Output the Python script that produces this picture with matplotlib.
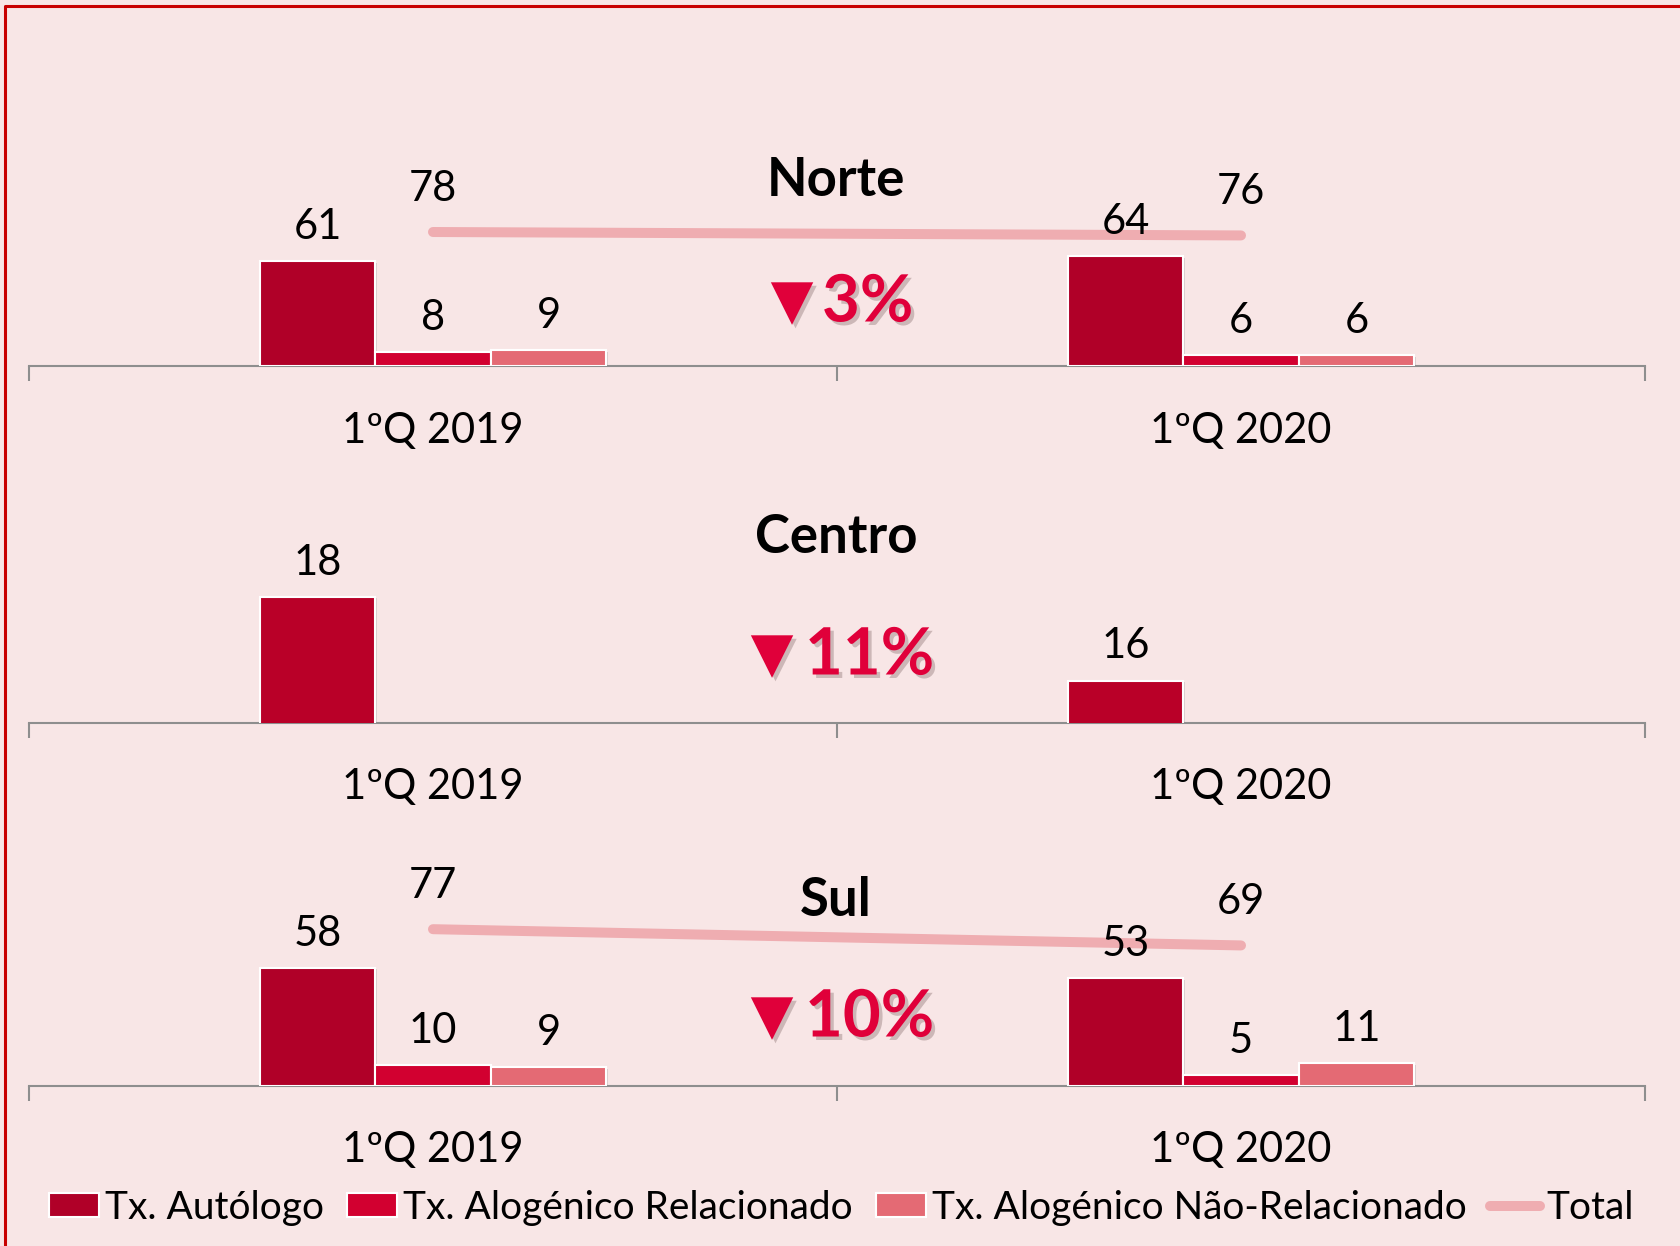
import matplotlib
matplotlib.use("Agg")
import matplotlib.pyplot as plt
import matplotlib.patheffects as pe
from matplotlib.patches import Patch
from matplotlib.lines import Line2D
import numpy as np

# ---- data ----
categories = ["1ºQ 2019", "1ºQ 2020"]
series_names = ["Tx. Autólogo", "Tx. Alogénico Relacionado",
                "Tx. Alogénico Não-Relacionado", "Total"]

norte_autologo = [61, 64]
norte_relacionado = [8, 6]
norte_nao_relacionado = [9, 6]
norte_total = [78, 76]

centro_autologo = [18, 16]

sul_autologo = [58, 53]
sul_relacionado = [10, 5]
sul_nao_relacionado = [9, 11]
sul_total = [77, 69]

regions = ["Norte", "Centro", "Sul"]
variations = ["3%", "11%", "10%"]

# ---- style ----
BG = "#F8E6E6"
C_AUTO = "#B00028"
C_AUTO_C = "#B90028"
C_REL = "#D20030"
C_NREL = "#E46A74"
C_TOTAL = "#EFADB1"
C_AXIS = "#8E8E8E"
C_PCT = "#E0003A"

plt.rcParams["font.family"] = ["Lato", "DejaVu Sans"]

W, H = 1681, 1246
fig = plt.figure(figsize=(W / 100, H / 100), dpi=100, facecolor=BG)


def fx(px):
    return px / W


def fy(py):
    return 1 - py / H


AX_LEFT, AX_RIGHT = 29, 1645
AX_H = 210
bar_w = 0.143
x = np.arange(len(categories))

shadow = [pe.SimplePatchShadow(offset=(1.2, -1.2), shadow_rgbFace="#808080", alpha=0.25), pe.Normal()]


def make_axes(baseline_px, ylim):
    ax = fig.add_axes([fx(AX_LEFT), fy(baseline_px), (AX_RIGHT - AX_LEFT) / W, AX_H / H])
    ax.set_facecolor("none")
    ax.set_xlim(-0.5, 1.5)
    ax.set_ylim(*ylim)
    for s in ("top", "left", "right"):
        ax.spines[s].set_visible(False)
    ax.spines["bottom"].set_color(C_AXIS)
    ax.spines["bottom"].set_linewidth(1.5)
    ax.set_yticks([])
    ax.set_xticks(x, categories)
    ax.set_xticks([-0.5, 0.5, 1.5], minor=True)
    ax.tick_params(axis="x", which="major", length=0, pad=33, labelsize=30)
    ax.tick_params(axis="x", which="minor", length=11, width=1.5, color=C_AXIS, direction="out")
    return ax


def bar_labels(ax, xs, vals):
    for xi, v in zip(xs, vals):
        ax.annotate(f"{v}", (xi, v), xytext=(0, 16), textcoords="offset points",
                    ha="center", va="baseline", fontsize=30, color="black",
                    zorder=6, annotation_clip=False)


def draw_bars(ax, series, colors):
    n = len(series)
    for i, (vals, col) in enumerate(zip(series, colors)):
        xs = x + (i - (n - 1) / 2) * bar_w if n == 3 else x - bar_w
        bars = ax.bar(xs, vals, width=bar_w, color=col, edgecolor="white",
                      linewidth=1.5, zorder=3)
        for b in bars:
            b.set_path_effects(shadow)
        bar_labels(ax, xs, vals)


def draw_total(ax, vals):
    ax.plot(x, vals, color=C_TOTAL, lw=7.2, solid_capstyle="round", zorder=4)
    for xi, v in zip(x, vals):
        ax.annotate(f"{v}", (xi, v), xytext=(0, 22.5), textcoords="offset points",
                    ha="center", va="baseline", fontsize=30, color="black",
                    zorder=6, annotation_clip=False)


# Norte
ax_n = make_axes(365.7, (0, AX_H / 1.714))
draw_bars(ax_n, [norte_autologo, norte_relacionado, norte_nao_relacionado],
          [C_AUTO, C_REL, C_NREL])
draw_total(ax_n, norte_total)

# Centro (axis starts at 15)
ax_c = make_axes(722.5, (15, 15 + AX_H / 41.9))
draw_bars(ax_c, [centro_autologo], [C_AUTO_C])

# Sul
ax_s = make_axes(1085.5, (0, AX_H / 2.03))
draw_bars(ax_s, [sul_autologo, sul_relacionado, sul_nao_relacionado],
          [C_AUTO, C_REL, C_NREL])
draw_total(ax_s, sul_total)

# Region titles and variation badges
title_y = [180.5, 537.7, 900.6]
pct_y = [303, 656, 1018]
tri_x = [792, 772, 772]
pct_x = [822, 805, 805]
txt_shadow = [pe.withSimplePatchShadow(offset=(2.5, -2.5), shadow_rgbFace="#7a6060", alpha=0.35)]
for name, ty, py, tx, px, var in zip(regions, title_y, pct_y, tri_x, pct_x, variations):
    fig.text(fx(836), fy(ty), name, ha="center", va="center", fontsize=38,
             fontweight="bold", color="black")
    fig.text(fx(tx), fy(py), "▼", ha="center", va="center", fontsize=40,
             color=C_PCT, family="DejaVu Sans", path_effects=txt_shadow)
    fig.text(fx(px), fy(py), var, ha="left", va="center", fontsize=47,
             fontweight="bold", color=C_PCT, path_effects=txt_shadow)

# Legend
handles = [Patch(facecolor=C_AUTO, edgecolor="white", linewidth=1.5),
           Patch(facecolor=C_REL, edgecolor="white", linewidth=1.5),
           Patch(facecolor=C_NREL, edgecolor="white", linewidth=1.5),
           Line2D([0], [0], color=C_TOTAL, lw=7.2, solid_capstyle="round")]
fig.legend(handles, series_names, loc="center", bbox_to_anchor=(fx(841), fy(1208)),
           ncol=4, frameon=False, fontsize=28, handlelength=1.3, handleheight=0.56,
           handletextpad=0.14, columnspacing=0.6, borderpad=0, borderaxespad=0)

# Outer frame (top and left edges)
fig.add_artist(Line2D([fx(5.5), fx(5.5), 1.0], [0, fy(5.5), fy(5.5)],
                      color="#C80000", lw=2.2, transform=fig.transFigure))

fig.savefig("out.png", dpi=100, facecolor=BG)
